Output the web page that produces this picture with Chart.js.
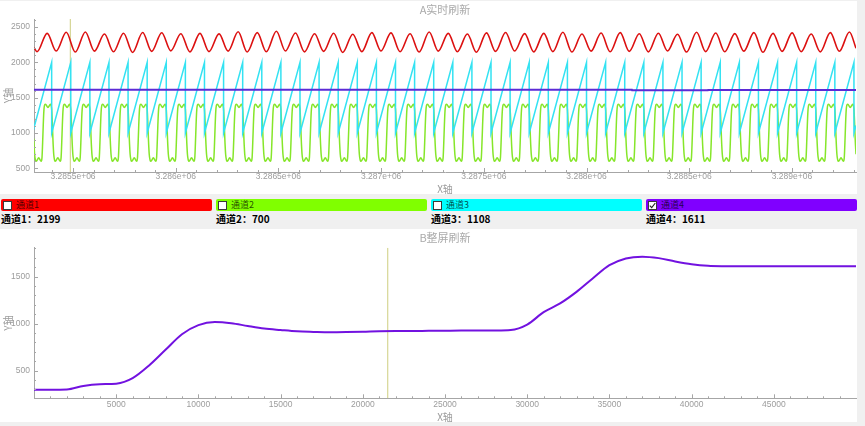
<!DOCTYPE html>
<html><head><meta charset="utf-8">
<script src="https://cdn.jsdelivr.net/npm/chart.js@4.4.1/dist/chart.umd.min.js"></script>
<style>
html,body{margin:0;padding:0;background:#f0f0f0;width:865px;height:426px;overflow:hidden;position:relative;}
.panel{position:absolute;left:0;width:857px;height:193px;background:#fff;}
#p1{top:1px}#p2{top:229px}
canvas{display:block}
.bar{position:absolute;top:199px;height:12px;width:211px;border-radius:2px;}
.cb{position:absolute;left:2px;top:1.5px;width:7px;height:7px;background:#fff;border:1px solid #3a3a3a;}
.cb svg{position:absolute;left:0;top:0}
.bl{position:absolute;left:15px;top:0px;font:9px "Noto Sans CJK SC",sans-serif;line-height:12px;color:rgba(0,0,0,.72);}
.val{position:absolute;top:213px;font:bold 10px "Noto Sans CJK SC",sans-serif;line-height:12px;color:#000;white-space:nowrap}
</style></head>
<body>
<div class="panel" id="p1"><canvas id="c1" width="857" height="193"></canvas></div>
<div id="ctrl"></div>
<div class="panel" id="p2"><canvas id="c2" width="857" height="193"></canvas></div>
<script>
// ---------- channel panel ----------
const channelNames = ['通道1', '通道2', '通道3', '通道4'];
const channelColors = ['#ff0000', '#80ff00', '#00ffff', '#8000ff'];
const channelValues = [2199, 700, 1108, 1611];
const channelChecked = [false, false, false, true];

// ---------- top chart (A实时刷新) ----------
const topXMin = 3285310, topXMax = 3289312;
const topYMin = 448, topYMax = 2613;
const topXTicks = [3285500, 3286000, 3286500, 3287000, 3287500, 3288000, 3288500, 3289000];
const topXTickLabels = ['3.2855e+06', '3.286e+06', '3.2865e+06', '3.287e+06', '3.2875e+06', '3.288e+06', '3.2885e+06', '3.289e+06'];
const topYTicks = [500, 1000, 1500, 2000, 2500];
const topYTickLabels = ['500', '1000', '1500', '2000', '2500'];

// sawtooth reset positions (where 通道3 drops from 2000 to 1000)
const resets = [3285303, 3285396, 3285489, 3285582, 3285675, 3285768, 3285861, 3285954, 3286047, 3286140,
  3286233, 3286326, 3286419, 3286512, 3286605, 3286698, 3286791, 3286884, 3286977, 3287070,
  3287163, 3287256, 3287349, 3287442, 3287535, 3287628, 3287721, 3287814, 3287907, 3288000,
  3288093, 3288186, 3288279, 3288372, 3288465, 3288558, 3288651, 3288744, 3288837, 3288930,
  3289023, 3289116, 3289209, 3289302];

// 通道1 (red): peaks / troughs per cycle
const redStart = 2205, redEnd = 2199;
const redPeakOffset = -22, redTroughOffset = 22;
const redPeaks = [2410, 2425, 2430, 2400, 2412, 2422, 2418, 2405, 2410, 2402, 2432, 2420, 2440, 2415, 2405, 2412, 2398, 2420, 2416, 2404, 2428, 2410, 2400, 2416, 2422, 2406, 2410, 2426, 2400, 2414, 2420, 2404, 2412, 2398, 2426, 2414, 2406, 2420, 2410, 2416, 2400, 2420, 2430];
const redTroughs = [2150, 2160, 2145, 2158, 2150, 2140, 2155, 2162, 2148, 2152, 2158, 2145, 2150, 2160, 2148, 2155, 2140, 2152, 2160, 2150, 2145, 2158, 2150, 2142, 2155, 2160, 2148, 2152, 2145, 2158, 2150, 2155, 2148, 2160, 2145, 2152, 2150, 2158, 2142, 2155, 2150, 2148, 2156];

// 通道2 (green): one period (offset from reset, value)
const greenShapeOffsets = [-3, 0, 3, 6, 10, 14, 18, 30, 42, 46, 49, 52, 55, 59, 63, 75, 87];
const greenShapeValues = [1392, 1335, 1160, 920, 700, 618, 600, 648, 600, 655, 860, 1110, 1310, 1398, 1405, 1362, 1405];
const greenEnd = 700;

// 通道3 (cyan): sawtooth top / bottom
const cyanTop = 2000, cyanBottom = 1000, cyanEnd = 1108;

// 通道4 (purple) on the top chart
const ch4TopX = [3285310, 3288221, 3288222, 3288591, 3288592, 3289312];
const ch4TopY = [1611, 1611, 1604, 1604, 1608, 1608];

const topCursorX = 3285487;

// ---------- bottom chart (B整屏刷新) ----------
const botXMin = 0, botXMax = 50000;
const botYMin = 206, botYMax = 1808;
const botXTicks = [5000, 10000, 15000, 20000, 25000, 30000, 35000, 40000, 45000];
const botXTickLabels = ['5000', '10000', '15000', '20000', '25000', '30000', '35000', '40000', '45000'];
const botYTicks = [500, 1000, 1500];
const botYTickLabels = ['500', '1000', '1500'];
const botX = [0, 1000, 2000, 3000, 4000, 5000, 6000, 7000, 8000, 9000, 10000, 11000, 12000, 13000, 14000, 15000, 16000, 17000, 18000, 19000, 20000, 21000, 22000, 23000, 24000, 25000, 26000, 27000, 28000, 29000, 30000, 31000, 32000, 33000, 34000, 35000, 36000, 37000, 38000, 39000, 40000, 41000, 42000, 43000, 44000, 45000, 46000, 47000, 48000, 49000, 50000];
const botY = [298, 298, 300, 338, 356, 362, 420, 555, 722, 888, 985, 1018, 1005, 975, 948, 932, 918, 912, 908, 910, 914, 920, 922, 922, 924, 925, 926, 926, 927, 932, 990, 1122, 1215, 1338, 1483, 1622, 1694, 1713, 1697, 1662, 1633, 1616, 1611, 1610, 1611, 1612, 1611, 1612, 1611, 1612, 1612];
const botCursorX = 21515;

// ---------- build channel panel ----------
const ctrl = document.getElementById('ctrl');
channelNames.forEach((name, i) => {
  const left = 1 + 215 * i;
  const bar = document.createElement('div');
  bar.className = 'bar';
  bar.style.left = left + 'px';
  bar.style.background = channelColors[i];
  const cb = document.createElement('div');
  cb.className = 'cb';
  if (channelChecked[i]) cb.innerHTML = '<svg width="7" height="7" viewBox="0 0 7 7"><polyline points="0.8,3.6 2.7,5.6 6.3,1.0" fill="none" stroke="#222" stroke-width="1.1"/></svg>';
  bar.appendChild(cb);
  const lbl = document.createElement('span');
  lbl.className = 'bl';
  lbl.textContent = name;
  bar.appendChild(lbl);
  ctrl.appendChild(bar);
  const v = document.createElement('div');
  v.className = 'val';
  v.style.left = left + 'px';
  v.textContent = name + '：' + channelValues[i];
  ctrl.appendChild(v);
});

// ---------- helpers ----------
const FONT_CJK = '"Noto Sans CJK SC", "Noto Sans", sans-serif';
const FONT_NUM = '"Liberation Sans", Arial, sans-serif';
const AXIS_GREY = '#a6a6a6';
const TEXT_GREY = '#9c9c9c';

const inwardTicks = {
  id: 'inwardTicks',
  afterDraw(chart, args, opts) {
    const ctx = chart.ctx, area = chart.chartArea;
    ctx.save();
    ctx.strokeStyle = AXIS_GREY;
    ctx.lineWidth = 1;
    ctx.beginPath();
    for (const id of Object.keys(opts.axes)) {
      const cfg = opts.axes[id];
      const s = chart.scales[id];
      let v = Math.ceil(s.min / cfg.minor) * cfg.minor;
      for (; v <= s.max; v += cfg.minor) {
        const isMajor = cfg.major.indexOf(Math.round(v)) >= 0;
        const len = isMajor ? 4 : 2;
        const p = Math.round(s.getPixelForValue(v)) + 0.5;
        if (s.isHorizontal()) {
          if (p < area.left + 1 || p > area.right) continue;
          ctx.moveTo(p, area.bottom); ctx.lineTo(p, area.bottom - len);
        } else {
          if (p > area.bottom - 1 || p < area.top) continue;
          ctx.moveTo(area.left, p); ctx.lineTo(area.left + len, p);
        }
      }
    }
    ctx.stroke();
    ctx.restore();
  }
};

function makeOptions(cfg) {
  return {
    responsive: false, animation: false, devicePixelRatio: 1,
    layout: {padding: {left: 0, right: 1, top: 0, bottom: 0}},
    elements: {point: {radius: 0}},
    plugins: {
      legend: {display: false}, tooltip: {enabled: false},
      title: {display: true, fullSize: false, text: cfg.title, color: '#aaaaaa',
        font: {family: FONT_CJK, size: 11, lineHeight: 1, weight: 'normal'},
        padding: {top: 3, bottom: cfg.titleBottom}},
      inwardTicks: {axes: {
        x: {minor: cfg.xMinor, major: cfg.xTicks},
        y: {minor: cfg.yMinor, major: cfg.yTicks}}}
    },
    scales: {
      x: {
        type: 'linear', min: cfg.xMin, max: cfg.xMax,
        grid: {display: false, drawTicks: false, tickLength: 0}, border: {display: true, color: AXIS_GREY, width: 1},
        afterBuildTicks: s => { s.ticks = cfg.xTicks.map(v => ({value: v})); },
        ticks: {callback: (v, i) => cfg.xLabels[i], color: TEXT_GREY, autoSkip: false, maxRotation: 0,
          font: {family: FONT_NUM, size: 8.5}, padding: cfg.xPad},
        title: {display: true, text: 'X轴', color: TEXT_GREY, font: {family: FONT_CJK, size: 10, lineHeight: 1}, padding: {top: 0, bottom: 0}},
        afterFit: s => { s.height = cfg.xHeight; }
      },
      y: {
        type: 'linear', min: cfg.yMin, max: cfg.yMax,
        grid: {display: false, drawTicks: false, tickLength: 0}, border: {display: true, color: AXIS_GREY, width: 1},
        afterBuildTicks: s => { s.ticks = cfg.yTicks.map(v => ({value: v})); },
        ticks: {callback: (v, i) => cfg.yLabels[i], color: TEXT_GREY, autoSkip: false,
          font: {family: FONT_NUM, size: 8.5}, padding: 4},
        title: {display: true, text: 'Y轴', color: TEXT_GREY, font: {family: FONT_CJK, size: 10, lineHeight: 1}, padding: {top: 3, bottom: 0}},
        afterFit: s => { s.width = 34; }
      }
    }
  };
}

// ---------- top chart data ----------
const redPts = [{x: topXMin, y: redStart}];
for (let i = 0; i < redTroughs.length; i++) {
  redPts.push({x: resets[i] + redTroughOffset, y: redTroughs[i]});
  redPts.push({x: resets[i + 1] + redPeakOffset, y: redPeaks[i]});
}
redPts.push({x: topXMax, y: redEnd});

const greenPts = [];
resets.forEach(r => {
  greenShapeOffsets.forEach((dx, j) => {
    if (r + dx < topXMax) greenPts.push({x: r + dx, y: greenShapeValues[j]});
  });
});
greenPts.push({x: topXMax, y: greenEnd});

const cyanPts = [];
resets.forEach((r, k) => {
  if (k > 0) cyanPts.push({x: r, y: cyanTop});
  cyanPts.push({x: r, y: cyanBottom});
});
cyanPts.push({x: topXMax, y: cyanEnd});

const ch4Pts = ch4TopX.map((x, i) => ({x, y: ch4TopY[i]}));

new Chart(document.getElementById('c1'), {
  type: 'line',
  data: {datasets: [
    {data: ch4Pts, borderColor: '#5b2bd6', borderWidth: 2, tension: 0},
    {data: cyanPts, borderColor: '#33e2f2', borderWidth: 1.5, tension: 0},
    {data: greenPts, borderColor: '#86e62a', borderWidth: 1.5, cubicInterpolationMode: 'monotone'},
    {data: redPts, borderColor: '#dc1010', borderWidth: 1.6, cubicInterpolationMode: 'monotone'},
    {data: [{x: topCursorX, y: topYMin}, {x: topCursorX, y: topYMax}], borderColor: '#d6d694', borderWidth: 1.2, tension: 0}
  ]},
  options: makeOptions({
    title: 'A实时刷新', titleBottom: 4,
    xMin: topXMin, xMax: topXMax, yMin: topYMin, yMax: topYMax,
    xTicks: topXTicks, xLabels: topXTickLabels, yTicks: topYTicks, yLabels: topYTickLabels,
    xMinor: 100, yMinor: 100, xHeight: 22, xPad: 0
  }),
  plugins: [inwardTicks]
});

// ---------- bottom chart ----------
new Chart(document.getElementById('c2'), {
  type: 'line',
  data: {datasets: [
    {data: botX.map((x, i) => ({x, y: botY[i]})), borderColor: '#7212e0', borderWidth: 2, cubicInterpolationMode: 'monotone'},
    {data: [{x: botCursorX, y: botYMin}, {x: botCursorX, y: botYMax}], borderColor: '#d6d694', borderWidth: 1.2, tension: 0}
  ]},
  options: makeOptions({
    title: 'B整屏刷新', titleBottom: 4.7,
    xMin: botXMin, xMax: botXMax, yMin: botYMin, yMax: botYMax,
    xTicks: botXTicks, xLabels: botXTickLabels, yTicks: botYTicks, yLabels: botYTickLabels,
    xMinor: 1000, yMinor: 100, xHeight: 23.7, xPad: 1
  }),
  plugins: [inwardTicks]
});
</script>
</body></html>
